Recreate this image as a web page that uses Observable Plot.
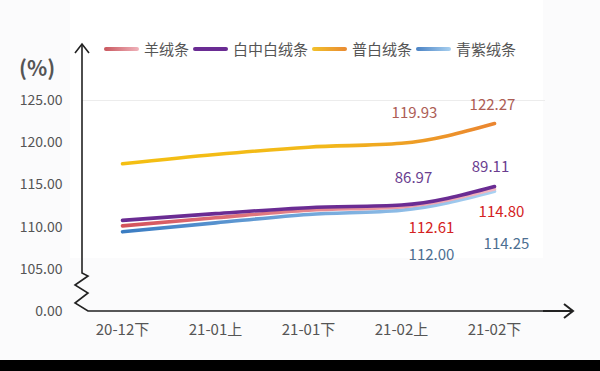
<!DOCTYPE html>
<html><head><meta charset="utf-8">
<script src="https://cdn.jsdelivr.net/npm/d3@7"></script>
<script src="https://cdn.jsdelivr.net/npm/@observablehq/plot@0.6"></script>
<style>
html,body{margin:0;padding:0;background:#fbfbfc;}
#wrap{position:relative;width:600px;height:360px;overflow:hidden;}
#panel{position:absolute;left:70px;top:0;width:473px;height:258px;background:#fff;}
#chart{position:absolute;left:0;top:0;}
#bar{width:600px;height:11px;background:#000;}
#legend{position:absolute;top:38px;left:104px;display:flex;align-items:center;font:15px "Noto Sans CJK SC",sans-serif;color:#555;white-space:nowrap;}
.sw{width:35px;height:4px;border-radius:2px;margin-right:5px;}
.it{display:flex;align-items:center;margin-right:4px}
#unit{position:absolute;left:19px;top:52px;font:bold 21px "Noto Sans CJK SC",sans-serif;color:#555}
</style></head>
<body>
<div id="wrap">
  <div id="panel"></div>
  <div id="chart"></div>
  <div id="unit">(%)</div>
  <div id="legend"></div>
</div>
<div id="bar"></div>
<script>
const categories = ["20-12下","21-01上","21-01下","21-02上","21-02下"];
const seriesNames = ["羊绒条","白中白绒条","普白绒条","青紫绒条"];
const yangRong    = [110.15, 111.1, 112.0, 112.4, 114.5];
const baiZhongBai = [110.8, 111.6, 112.3, 112.61, 114.80];
const puBai       = [117.5, 118.6, 119.47, 119.93, 122.27];
const qingZi      = [109.44, 110.5, 111.5, 112.0, 114.25];
const yTicks = [100, 105, 110, 115, 120, 125];
const yTickLabels = ["0.00","105.00","110.00","115.00","120.00","125.00"];
const annotations = [
  {series:"普白绒条", category:"21-02上", text:"119.93"},
  {series:"普白绒条", category:"21-02下", text:"122.27"},
  {series:"白中白绒条", category:"21-02上", text:"86.97"},
  {series:"白中白绒条", category:"21-02下", text:"89.11"},
  {series:"羊绒条", category:"21-02上", text:"112.61"},
  {series:"羊绒条", category:"21-02下", text:"114.80"},
  {series:"青紫绒条", category:"21-02上", text:"112.00"},
  {series:"青紫绒条", category:"21-02下", text:"114.25"}
];

// styles
const seriesValues = {"羊绒条":yangRong,"白中白绒条":baiZhongBai,"普白绒条":puBai,"青紫绒条":qingZi};
const gradStops = {
  "羊绒条":[["0%","#d4525a"],["100%","#f2b7c0"]],
  "白中白绒条":[["0%","#6a2c93"],["100%","#6a2c93"]],
  "普白绒条":[["0%","#f4bf12"],["55%","#f2b81a"],["100%","#ea8530"]],
  "青紫绒条":[["0%","#3a7cc2"],["100%","#a9d1f2"]]
};
const gradId = {"羊绒条":"gYang","白中白绒条":"gBai","普白绒条":"gPu","青紫绒条":"gQing"};
const labelStyle = {
  "119.93":{dx:13,dy:-30,fill:"#ad5d55"},
  "122.27":{dx:-2,dy:-18,fill:"#ad5d55"},
  "86.97":{dx:12,dy:-27,fill:"#6a3d8f"},
  "89.11":{dx:-4,dy:-19,fill:"#6a3d8f"},
  "112.61":{dx:30,dy:21,fill:"#d42222"},
  "114.80":{dx:7,dy:23,fill:"#d42222"},
  "112.00":{dx:30,dy:45,fill:"#4d6f92"},
  "114.25":{dx:12,dy:53,fill:"#4d6f92"}
};

const rows = [];
for (const s of seriesNames) seriesValues[s].forEach((v,i)=>rows.push({series:s, category:categories[i], value:v}));
const drawOrder = ["普白绒条","青紫绒条","羊绒条","白中白绒条"];
const anno = annotations.map(a => ({...a, value: seriesValues[a.series][categories.indexOf(a.category)]}));

const font = '"Noto Sans CJK SC", sans-serif';
const chart = Plot.plot({
  width: 600, height: 360,
  marginLeft: 82, marginRight: 55, marginTop: 100, marginBottom: 49,
  style: {background: "transparent", fontFamily: font},
  x: {type: "point", domain: categories, range: [120, 495], padding: 0},
  y: {domain: [100, 125]},
  marks: [
    Plot.ruleY([125], {stroke: "#ececec", strokeWidth: 1}),
    Plot.axisY({ticks: yTicks, tickFormat: d => yTickLabels[yTicks.indexOf(d)], tickSize: 0, tickPadding: 20, label: null, fontSize: 14, fill: "#555"}),
    Plot.axisX({tickSize: 0, tickPadding: 13, label: null, fontSize: 15, fill: "#555"}),
    ...drawOrder.map(s => Plot.line(rows.filter(r => r.series === s), {
      x: "category", y: "value", stroke: `url(#${gradId[s]})`, strokeWidth: 3.6, curve: "monotone-x", strokeLinecap: "round"
    })),
    ...anno.map(a => Plot.text([a], {x: "category", y: "value", text: "text", dx: labelStyle[a.text].dx, dy: labelStyle[a.text].dy, fill: labelStyle[a.text].fill, fontSize: 15}))
  ]
});
document.getElementById("chart").appendChild(chart);

// gradients & axis decorations from scales
const sx = chart.scale("x"), sy = chart.scale("y");
const svg = d3.select(chart);
const defs = svg.insert("defs", ":first-child");
for (const s of seriesNames) {
  const g = defs.append("linearGradient").attr("id", gradId[s]).attr("gradientUnits", "userSpaceOnUse")
    .attr("x1", sx.apply(categories[0])).attr("x2", sx.apply(categories[categories.length-1])).attr("y1", 0).attr("y2", 0);
  for (const [o, c] of gradStops[s]) g.append("stop").attr("offset", o).attr("stop-color", c);
}
const x0 = 82, yb = sy.apply(100), yt = sy.apply(125);
const deco = svg.append("g").attr("fill", "none").attr("stroke", "#222").attr("stroke-linejoin", "miter");
deco.append("path").attr("stroke-width", 1.6).attr("d",
  `M${x0},${yt-56}V${yb-38}L${x0+6},${yb-35}L${x0-7},${yb-26}L${x0+6},${yb-18}L${x0-7},${yb-8}L${x0+6},${yb}H543`);
deco.append("path").attr("stroke-width", 2).attr("d", `M543,${yb}H572`);
deco.append("path").attr("stroke-width", 1.6).attr("d", `M${x0-7},${yt-47}L${x0},${yt-56}L${x0+7},${yt-47}`);
deco.append("path").attr("stroke-width", 2).attr("d", `M564,${yb-7}L573,${yb}L564,${yb+7}`);

// legend
const legendColors = {
  "羊绒条":"linear-gradient(to right,#c9575e,#f0b3bb)",
  "白中白绒条":"#6a2c93",
  "普白绒条":"linear-gradient(to right,#f2c12a,#e98a33)",
  "青紫绒条":"linear-gradient(to right,#4a82c4,#a8d0f0)"
};
const lg = document.getElementById("legend");
for (const s of seriesNames) {
  const it = document.createElement("div"); it.className = "it";
  const sw = document.createElement("div"); sw.className = "sw"; sw.style.background = legendColors[s];
  const t = document.createElement("span"); t.textContent = s;
  it.appendChild(sw); it.appendChild(t); lg.appendChild(it);
}
</script>
</body></html>
